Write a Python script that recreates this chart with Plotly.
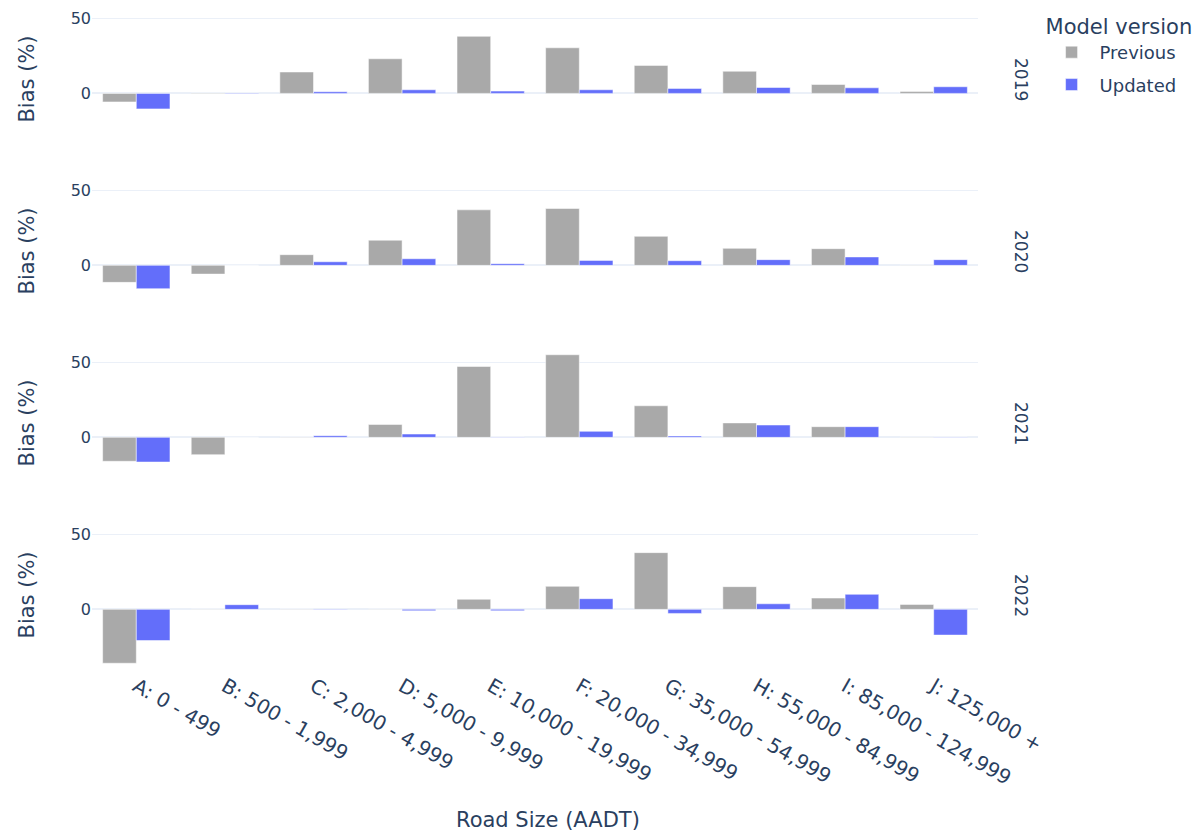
import plotly.graph_objects as go
from plotly.subplots import make_subplots

categories = ["A: 0 - 499", "B: 500 - 1,999", "C: 2,000 - 4,999", "D: 5,000 - 9,999",
              "E: 10,000 - 19,999", "F: 20,000 - 34,999", "G: 35,000 - 54,999",
              "H: 55,000 - 84,999", "I: 85,000 - 124,999", "J: 125,000 +"]
years = ["2019", "2020", "2021", "2022"]

prev_2019 = [-5.7, 0.2, 14.2, 23.0, 37.9, 30.3, 18.6, 14.7, 5.9, 1.3]
upd_2019 = [-10.3, 0.3, 1.1, 2.4, 1.5, 2.4, 3.3, 3.9, 3.7, 4.4]
prev_2020 = [-11.3, -5.8, 7.1, 16.7, 36.9, 37.8, 19.3, 11.3, 11.1, 0.2]
upd_2020 = [-15.5, 0.1, 2.4, 4.4, 1.1, 3.3, 3.1, 3.8, 5.6, 3.8]
prev_2021 = [-15.9, -11.5, 0.3, 8.6, 47.1, 54.9, 21.0, 9.6, 7.1, 0.2]
upd_2021 = [-16.4, 0.1, 1.1, 2.2, 0.3, 4.0, 0.9, 8.2, 7.1, 0.3]
prev_2022 = [-35.8, 0.2, 0.3, 0.2, 6.7, 15.3, 37.7, 15.1, 7.5, 3.3]
upd_2022 = [-20.7, 3.1, -0.3, -0.9, -0.9, 7.1, -2.7, 3.7, 10.0, -17.1]

previous = [prev_2019, prev_2020, prev_2021, prev_2022]
updated = [upd_2019, upd_2020, upd_2021, upd_2022]

FONT = "Verdana, DejaVu Sans, sans-serif"
C_PREV = "#A9A9A9"
C_UPD = "#636EFA"

fig = make_subplots(rows=4, cols=1, shared_xaxes=True, vertical_spacing=0.033)

for i, yr in enumerate(years):
    r = i + 1
    fig.add_trace(go.Bar(x=categories, y=previous[i], name="Previous", legendgroup="Previous",
                         marker=dict(color=C_PREV, line=dict(color="white", width=0.5)),
                         showlegend=(i == 0)), row=r, col=1)
    fig.add_trace(go.Bar(x=categories, y=updated[i], name="Updated", legendgroup="Updated",
                         marker=dict(color=C_UPD, line=dict(color="white", width=0.5)),
                         showlegend=(i == 0)), row=r, col=1)
    fig.update_yaxes(title_text="Bias (%)", row=r, col=1)

fig.update_yaxes(range=[-40.3, 59.4], dtick=50, tickfont=dict(size=16),
                 title_font=dict(size=21), title_standoff=30, gridcolor="#EBF0F8",
                 zerolinecolor="#EBF0F8", zerolinewidth=2, automargin=False)
fig.update_xaxes(tickangle=30, tickfont=dict(size=20), showgrid=False, automargin=False)

# x-axis title
fig.add_annotation(text="Road Size (AADT)", x=0.5147, xref="paper", xanchor="center",
                   y=0, yref="paper", yanchor="middle", yshift=-150, showarrow=False,
                   font=dict(size=21, color="#2a3f5f"))

# facet row labels
for i, yr in enumerate(years):
    dom = fig.layout[f"yaxis{'' if i == 0 else i + 1}"].domain
    fig.add_annotation(text=yr, x=1, xref="paper", xanchor="left", xshift=31,
                       y=(dom[0] + dom[1]) / 2, yref="paper", yanchor="middle",
                       showarrow=False, textangle=90, font=dict(size=17, color="#2a3f5f"))

fig.update_layout(
    template="plotly_white",
    width=1203, height=836,
    font=dict(family=FONT, color="#2a3f5f"),
    barmode="group", bargap=0.24,
    margin=dict(l=92, r=225, t=4, b=166, autoexpand=False),
    legend=dict(title=dict(text="Model version", font=dict(size=21)),
                font=dict(size=18), x=1.074, xanchor="left", y=0.996, yanchor="top",
                tracegroupgap=6, itemwidth=46),
)

fig.write_html("out.html", config={"displayModeBar": False},
               post_script="document.body.style.margin='0px';")
